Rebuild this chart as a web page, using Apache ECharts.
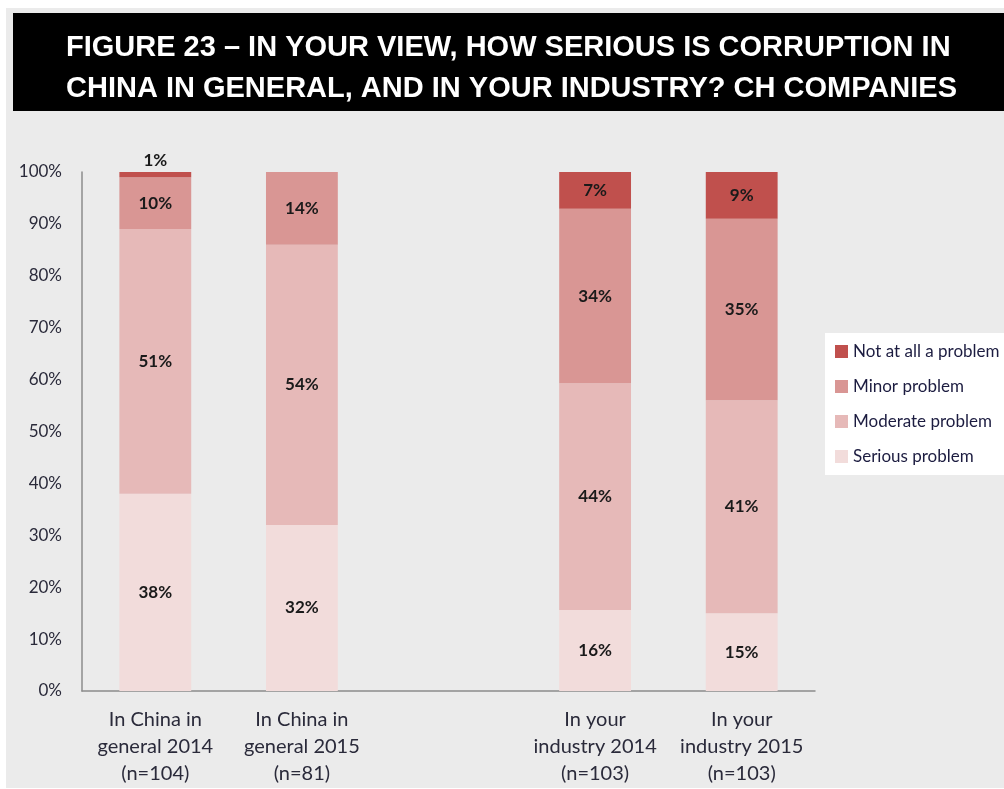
<!DOCTYPE html>
<html>
<head>
<meta charset="utf-8">
<script src="https://cdn.jsdelivr.net/npm/echarts@6/dist/echarts.min.js"></script>
<style>
  html, body { margin: 0; padding: 0; background: #fff; }
  #chart { width: 1004px; height: 789px; }
</style>
</head>
<body>
<div id="chart"></div>
<script>
// categories (empty slot between the two groups)
const categories = [
  'In China in\ngeneral 2014\n(n=104)',
  'In China in\ngeneral 2015\n(n=81)',
  '',
  'In your\nindustry 2014\n(n=103)',
  'In your\nindustry 2015\n(n=103)'
]
const seriousVals  = [38, 32, '-', 15.6, 15]
const moderateVals = [51, 54, '-', 43.7, 41]
const minorVals    = [10, 14, '-', 33.6, 35]
const notAtAllVals = [1, 0, '-', 7.1, 9]
const yTicks = [0, 10, 20, 30, 40, 50, 60, 70, 80, 90, 100]

const titleLines = [
  'FIGURE 23 – IN YOUR VIEW, HOW SERIOUS IS CORRUPTION IN',
  'CHINA IN GENERAL, AND IN YOUR INDUSTRY? CH COMPANIES'
]

const labelFont = 'Lato, "Open Sans", sans-serif'

function segLabel(p) {
  if (p.value === '-' || !p.value) return ''
  return Math.round(p.value) + '%'
}

function barSeries(name, vals, color, smallTop) {
  return {
    name: name,
    type: 'bar',
    stack: 'total',
    barWidth: '49%',
    itemStyle: { color: color },
    label: {
      show: true,
      position: 'inside',
      formatter: segLabel,
      color: '#1a1a1a',
      fontWeight: 'bold',
      fontSize: 17,
      fontFamily: labelFont
    },
    data: vals.map(v => smallTop && typeof v === 'number' && v > 0 && v < 3
      ? { value: v, label: { position: 'top', distance: 3 } }
      : v)
  }
}

const chart = echarts.init(document.getElementById('chart'))
chart.setOption({
  backgroundColor: '#ffffff',
  animation: false,
  graphic: [
    { type: 'rect', shape: { x: 6, y: 8, width: 998, height: 780 }, style: { fill: '#ebebeb' }, z: -10 },
    { type: 'rect', shape: { x: 13, y: 13, width: 991, height: 98 }, style: { fill: '#000' }, z: -9 },
    {
      type: 'text', left: 66, top: 27, z: 10,
      style: {
        text: titleLines.join('\n'),
        fill: '#fff',
        font: 'bold 29px "Liberation Sans", Arial, sans-serif',
        lineHeight: 41,
        align: 'center'
      }
    }
  ],
  legend: {
    orient: 'vertical',
    left: 825,
    top: 333,
    backgroundColor: '#ffffff',
    padding: [10, 40, 10, 10],
    itemWidth: 13,
    itemHeight: 13,
    itemGap: 18,
    icon: 'rect',
    textStyle: { fontSize: 17, color: '#1c1c40', fontFamily: labelFont },
    data: ['Not at all a problem', 'Minor problem', 'Moderate problem', 'Serious problem']
  },
  grid: { left: 82, right: 189, top: 172, bottom: 98 },
  xAxis: {
    type: 'category',
    data: categories,
    axisLine: { lineStyle: { color: '#8c8c8c', width: 1.5 } },
    axisTick: { show: false },
    axisLabel: {
      interval: 0,
      fontSize: 20,
      lineHeight: 27,
      margin: 15,
      color: '#2a2a3a',
      fontFamily: labelFont
    }
  },
  yAxis: {
    type: 'value',
    min: yTicks[0],
    max: yTicks[yTicks.length - 1],
    interval: yTicks[1] - yTicks[0],
    axisLine: { show: true, lineStyle: { color: '#8c8c8c', width: 1.5 } },
    axisTick: { show: false },
    splitLine: { show: false },
    axisLabel: {
      formatter: '{value}%',
      fontSize: 17,
      margin: 20,
      color: '#2a2a3a',
      fontFamily: labelFont
    }
  },
  series: [
    barSeries('Serious problem', seriousVals, '#f2dcdb'),
    barSeries('Moderate problem', moderateVals, '#e6b9b8'),
    barSeries('Minor problem', minorVals, '#d99694'),
    barSeries('Not at all a problem', notAtAllVals, '#c0504d', true)
  ]
})
</script>
</body>
</html>
